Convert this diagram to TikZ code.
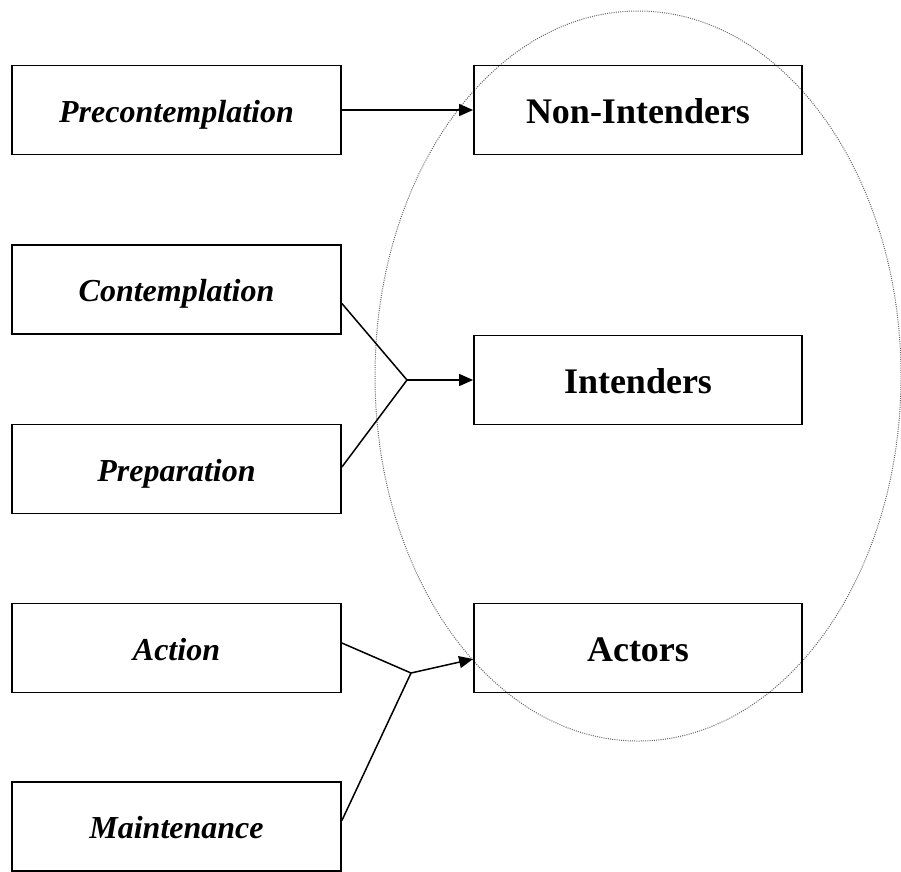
\documentclass[tikz,border=0pt]{standalone}
\usepackage{fontspec}
\setmainfont{Liberation Serif}
\usetikzlibrary{arrows.meta,calc}
\begin{document}
\begin{tikzpicture}[x=1pt,y=-1pt,
  stagebox/.style={draw,line width=1.8pt,minimum width=329pt,minimum height=89pt,
    inner sep=0pt,text height=28pt,text depth=3.5pt,
    font=\fontsize{32}{36}\selectfont\bfseries\itshape},
  groupbox/.style={draw,line width=1.8pt,minimum width=328pt,minimum height=89pt,
    inner sep=0pt,text height=30pt,text depth=3.2pt,
    font=\fontsize{36}{40}\selectfont\bfseries},
  link/.style={line width=1.5pt},
  arr/.style={line width=1.5pt,-{Triangle[length=14pt,width=12pt]}}]
\useasboundingbox (0,0) rectangle (901,871);
% grouping ellipse
\draw[black!60,line width=1pt,dash pattern=on 1pt off 1.2pt] (638,376) ellipse [x radius=263,y radius=365];
% stages
\node[stagebox] (pre)  at (176.5,110)   {Precontemplation};
\node[stagebox] (con)  at (176.5,289.5) {Contemplation};
\node[stagebox] (prep) at (176.5,469)   {Preparation};
\node[stagebox] (act)  at (176.5,648)   {Action};
\node[stagebox] (main) at (176.5,826.5) {Maintenance};
% groups
\node[groupbox] (non) at (638,110) {Non-Intenders};
\node[groupbox] (int) at (638,380) {Intenders};
\node[groupbox] (ac)  at (638,648) {Actors};
% junctions
\coordinate (j1) at (407,380);
\coordinate (j2) at (411,673);
% connectors
\draw[arr] (pre.east) -- (non.west);
\draw[link] ($(con.east)+(0,14)$) -- (j1);
\draw[link] ($(prep.east)+(0,-2)$) -- (j1);
\draw[arr] (j1) -- (int.west);
\draw[link] ($(act.east)+(0,-5)$) -- (j2);
\draw[link] ($(main.east)+(0,-6)$) -- (j2);
\draw[arr] (j2) -- ($(ac.west)+(0,11)$);
\end{tikzpicture}
\end{document}
